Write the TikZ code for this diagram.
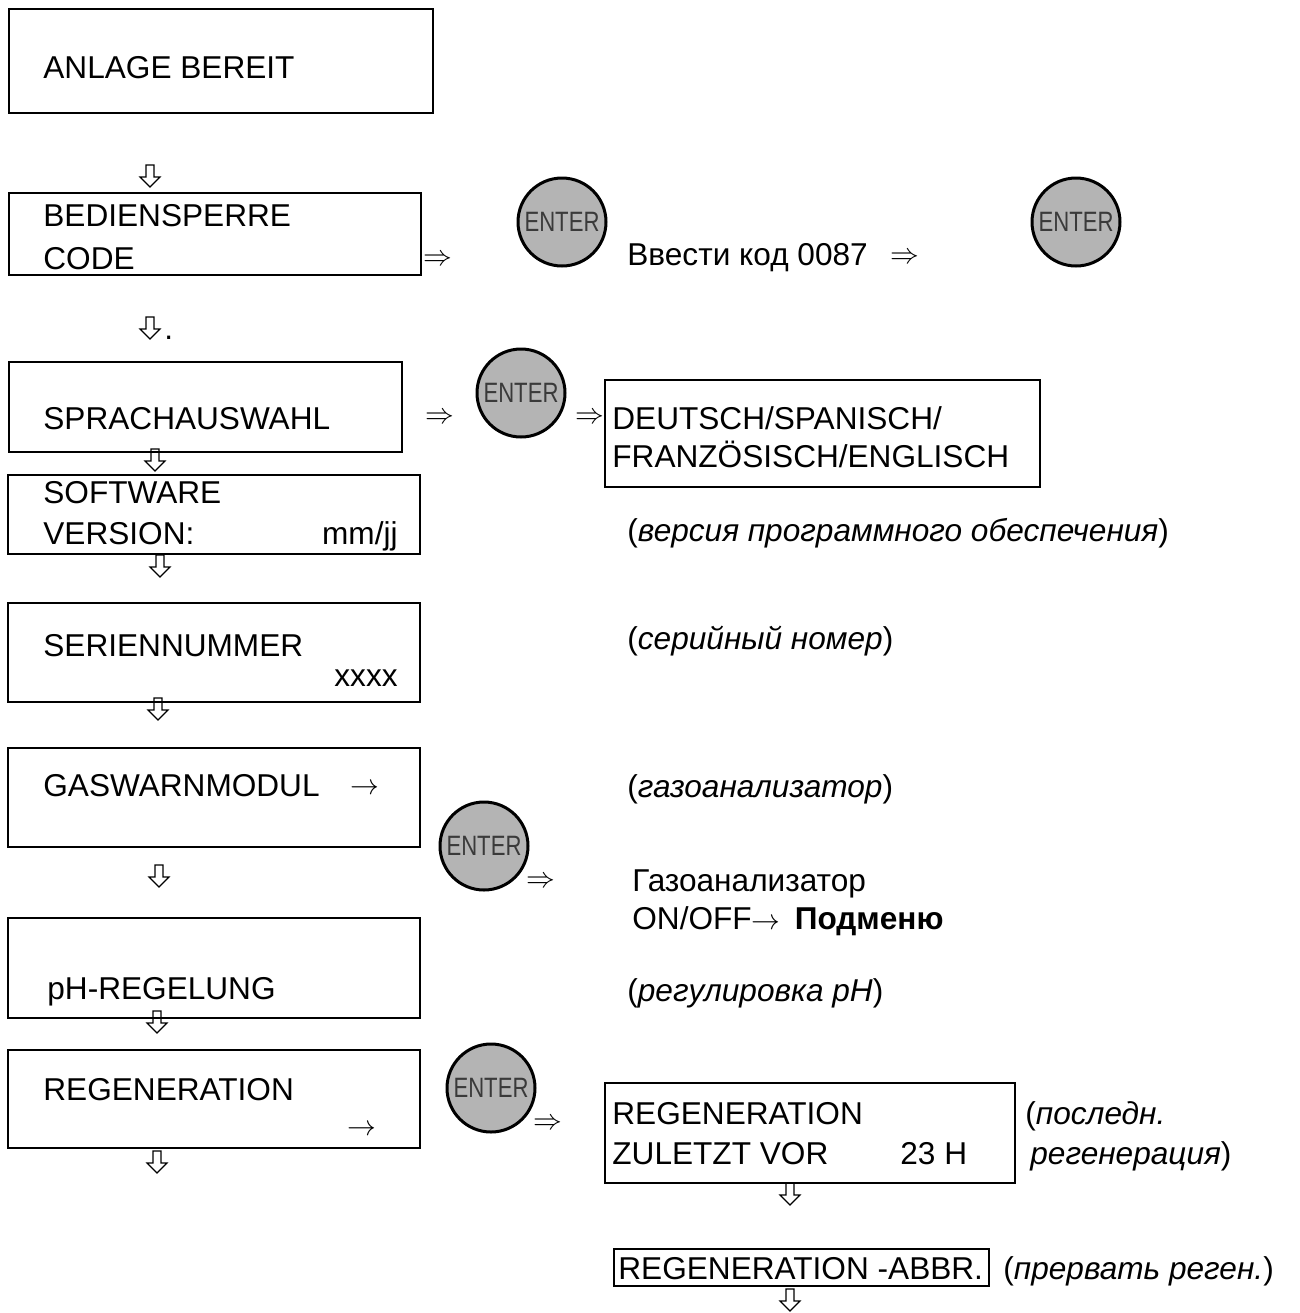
\documentclass[tikz,border=0pt]{standalone}
\usepackage{fontspec}
\setmainfont{Liberation Sans}
\definecolor{btngray}{HTML}{B4B4B4}
\definecolor{entertext}{HTML}{3A3A3A}
\newcommand\fs{\fontsize{15.8pt}{19pt}\selectfont}
\newcommand\enterfont{\fontsize{14pt}{16pt}\selectfont}
\newcommand\enterlabel{\scalebox{0.79}[1]{ENTER}}
\tikzset{
 box/.style={draw, line width=1pt, inner sep=0pt, outer sep=0pt, anchor=north west},
 txt/.style={anchor=base west, inner sep=0pt, font=\fs},
 rtxt/.style={anchor=base east, inner sep=0pt, font=\fs},
 sym/.style={inner sep=0pt, font=\fs},
 enterbtn/.style={circle, draw=black, line width=1.5pt, fill=btngray, minimum size=44pt, inner sep=0pt, font=\enterfont, text=entertext},
 harrow/.pic={\draw[line width=0.6pt] (-4,-11) -- (-4,1) -- (-10,1) -- (0,11) -- (10,1) -- (4,1) -- (4,-11) -- cycle;}
}
\newcommand\bx[5]{\node[box, minimum width={(#4-#2)*0.5pt}, minimum height={(#5-#3)*0.5pt}] (#1) at (#2,#3) {};}
\begin{document}
\begin{tikzpicture}[x=0.5pt,y=-0.5pt]
\useasboundingbox (0,0) rectangle (1300,1313);
% ---- left column boxes
\bx{b1}{9}{9}{433}{113}
\bx{b2}{9}{193}{421}{275}
\bx{b3}{9}{362}{402}{452}
\bx{b4}{8}{475}{420}{554}
\bx{b5}{8}{603}{420}{702}
\bx{b6}{8}{748}{420}{847}
\bx{b7}{8}{918}{420}{1018}
\bx{b8}{8}{1050}{420}{1148}
% ---- right boxes
\bx{r1}{605}{380}{1040}{487}
\bx{r2}{605}{1083}{1015}{1183}
\bx{r3}{614}{1249}{989}{1286}
% ---- texts in left boxes
\node[txt] (t1) at (43,78) {ANLAGE BEREIT};
\node[txt] (t2a) at (43,226) {BEDIENSPERRE};
\node[txt] (t2b) at (43,269) {CODE};
\node[txt] (t3) at (43,429) {SPRACHAUSWAHL};
\node[txt] (t4a) at (43,503) {SOFTWARE};
\node[txt] (t4b) at (43,544) {VERSION:};
\node[rtxt] (t4c) at (398,544) {mm/jj};
\node[txt] (t5a) at (43,656) {SERIENNUMMER};
\node[rtxt] (t5b) at (398,686) {xxxx};
\node[txt] (t6) at (43,796) {GASWARNMODUL};
\node[sym] (t6r) at (365,789) {$\rightarrow$};
\node[txt] (t7) at (47,999) {pH-REGELUNG};
\node[txt] (t8) at (43,1100) {REGENERATION};
\node[sym] (t8r) at (362,1130) {$\rightarrow$};
% ---- right texts
\node[txt] (r1a) at (612,429) {DEUTSCH/SPANISCH/};
\node[txt] (r1b) at (612,467) {FRANZÖSISCH/ENGLISCH};
\node[txt] (code) at (627,265) {Ввести код 0087};
\node[sym] (codearr) at (905,258) {$\Rightarrow$};
\node[txt] (c4) at (627,541) {(\textit{версия программного обеспечения})};
\node[txt] (c5) at (627,649) {(\textit{серийный номер})};
\node[txt] (c6) at (627,797) {(\textit{газоанализатор})};
\node[txt] (g1) at (632,891) {Газоанализатор};
\node[txt] (g2) at (632,929) {ON/OFF$\rightarrow$\hspace{0.45em}\textbf{Подменю}};
\node[txt] (c7) at (627,1001) {(\textit{регулировка pH})};
\node[txt] (r2a) at (612,1124) {REGENERATION};
\node[txt] (r2b) at (612,1164) {ZULETZT VOR};
\node[txt] (r2c) at (900,1164) {23 H};
\node[txt] (c8a) at (1025,1124) {(\textit{последн.}};
\node[txt] (c8b) at (1030,1164) {\textit{регенерация})};
\node[txt] (r3t) at (618,1279) {REGENERATION -ABBR.};
\node[txt] (c9) at (1003,1279) {(\textit{прервать реген.})};
% ---- ENTER buttons
\node[enterbtn] (e1) at (562,222) {\enterlabel};
\node[enterbtn] (e2) at (1076,222) {\enterlabel};
\node[enterbtn] (e3) at (521,393) {\enterlabel};
\node[enterbtn] (e4) at (484,846) {\enterlabel};
\node[enterbtn] (e5) at (491,1088) {\enterlabel};
% ---- double arrows
\node[sym] (d1) at (438,260) {$\Rightarrow$};
\node[sym] (d2) at (440,418) {$\Rightarrow$};
\node[sym] (d3) at (590,418) {$\Rightarrow$};
\node[sym] (d4) at (541,882) {$\Rightarrow$};
\node[sym] (d5) at (548,1124) {$\Rightarrow$};
% ---- hollow down arrows
\pic (a1) at (150,176) {harrow};
\pic (a2) at (150,328) {harrow};
\node[txt] (a2dot) at (164,339) {.};
\pic (a3) at (155,460) {harrow};
\pic (a4) at (160,566) {harrow};
\pic (a5) at (158,709) {harrow};
\pic (a6) at (159,876) {harrow};
\pic (a7) at (157,1022) {harrow};
\pic (a8) at (157,1162) {harrow};
\pic (a9) at (790,1194) {harrow};
\pic (a10) at (790,1300) {harrow};
\end{tikzpicture}
\end{document}
